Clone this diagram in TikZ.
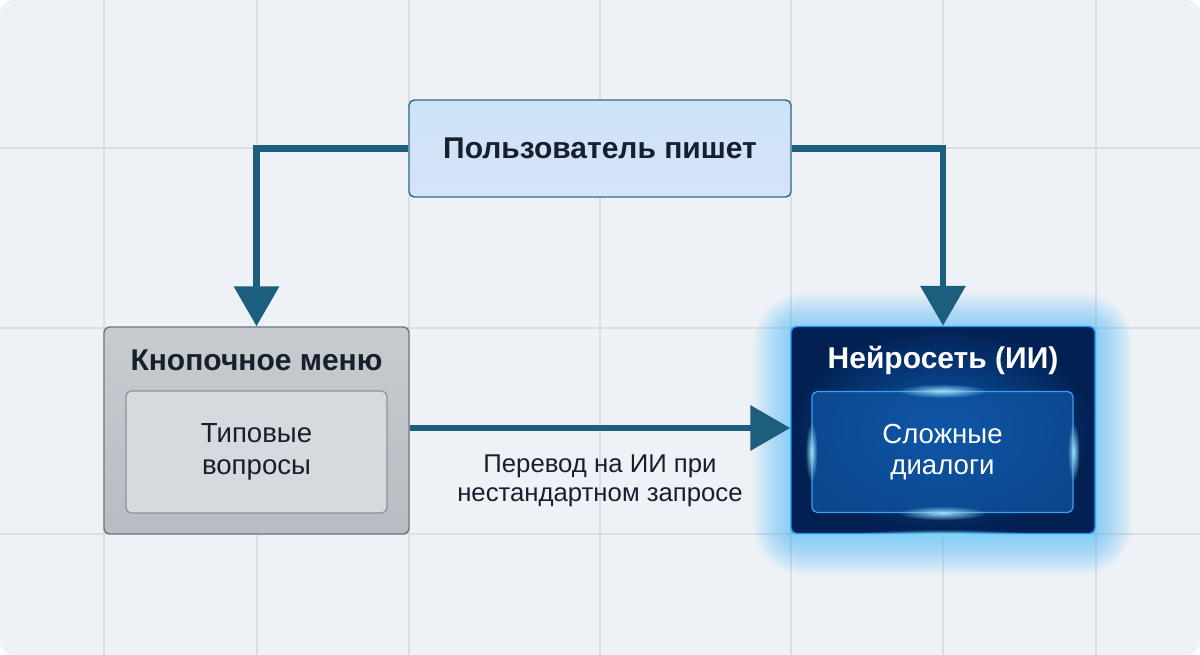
\documentclass[tikz,border=0pt]{standalone}
\usepackage{fontspec}
\setmainfont{Liberation Sans}
\usetikzlibrary{arrows.meta,positioning,fadings}

\definecolor{paperclr}{RGB}{238,242,246}
\definecolor{gridclr}{RGB}{218,223,229}
\definecolor{flowclr}{RGB}{28,94,126}
\definecolor{inkclr}{RGB}{22,32,44}
\definecolor{userfill}{RGB}{204,227,247}
\definecolor{userline}{RGB}{47,106,142}
\definecolor{menutop}{RGB}{200,203,208}
\definecolor{menubot}{RGB}{184,188,195}
\definecolor{menuline}{RGB}{112,118,126}
\definecolor{menuinner}{RGB}{214,217,221}
\definecolor{menuinline}{RGB}{140,145,153}
\definecolor{aidark}{RGB}{2,32,82}
\definecolor{aimid}{RGB}{14,92,180}
\definecolor{ailine}{RGB}{30,150,255}
\definecolor{aiinner}{RGB}{16,84,162}
\definecolor{aiinline}{RGB}{58,160,240}
\definecolor{glowclr}{RGB}{40,180,255}

\tikzfading[name=spotfade,inner color=transparent!0,outer color=transparent!100]
\tikzset{every picture/.style={line width=0.75pt}}

\begin{document}
\begin{tikzpicture}[x=0.75pt,y=0.75pt,yscale=-1,xscale=1,
  box/.style={rounded corners=4pt,line width=1.1pt,inner sep=0pt,align=center},
  title/.style={font=\bfseries\fontsize{22.5}{27}\selectfont,text=inkclr},
  body/.style={font=\fontsize{20.7}{23.5}\selectfont,align=center},
  flow/.style={draw=flowclr,line width=5.2pt,-{Triangle[length=30pt,width=33pt]}}]
\useasboundingbox (0,0) rectangle (1200,655);

%background and grid
\fill[paperclr,rounded corners=10pt] (0,0) rectangle (1200,655);
\foreach \gx in {104,257,409,600,791,943,1096}
  \draw[gridclr,line width=0.9pt] (\gx,0) -- (\gx,655);
\foreach \gy in {148,328,534}
  \draw[gridclr,line width=0.9pt] (0,\gy) -- (1200,\gy);

%top box
\node[box,draw=userline,top color=userfill,bottom color=userfill!92!blue!60!white,
  minimum width=286.5pt,minimum height=72.75pt] (user) at (600,148.5) {};
\node[title] (usertxt) at (600,148.5) {Пользователь пишет};

%left box
\node[box,draw=menuline,top color=menutop,bottom color=menubot,
  minimum width=228.75pt,minimum height=155.25pt] (menu) at (256.5,430.5) {};
\node[title] (menutxt) at (256.5,360) {Кнопочное меню};
\node[box,draw=menuinline,fill=menuinner,line width=0.9pt,
  minimum width=195.75pt,minimum height=91.5pt] (typical) at (256.5,452) {};
\node[body,text=inkclr] (typicaltxt) at (256.5,452) {Типовые\\вопросы};

%glow round the right box
\foreach \g [evaluate=\g as \rc using 4+\g*1.6] in {1,...,22}
  \node[fill=glowclr,fill opacity=0.028,rounded corners=\rc pt,inner sep=0pt,
    minimum width={228pt+2*\g*1.3pt},minimum height={155.25pt+2*\g*1.3pt}]
    (glow\g) at (943,434) {};

%right box
\node[box,draw=ailine,inner color=aimid,outer color=aidark,
  minimum width=228pt,minimum height=155.25pt] (ai) at (943,430) {};
\node[title,text=white] (aitxt) at (943,360) {Нейросеть (ИИ)};
\node[box,draw=aiinline,fill=aiinner,fill opacity=0.75,line width=0.9pt,
  minimum width=195.75pt,minimum height=90.75pt] (hard) at (942.5,452) {};
\fill[cyan!40!white,path fading=spotfade] (hard.north) ellipse (45 and 7);
\fill[cyan!40!white,path fading=spotfade] (hard.south) ellipse (45 and 7);
\fill[cyan!40!white,path fading=spotfade] (hard.west) ellipse (6 and 30);
\fill[cyan!40!white,path fading=spotfade] (hard.east) ellipse (6 and 30);
\fill[cyan!50!white,path fading=spotfade] (ai.south) ellipse (90 and 5);
\node[body,text=white] (hardtxt) at (942.5,452) {Сложные\\диалоги};

%connectors
\draw[flow] (user.west) -| (menu.north);
\draw[flow] (user.east) -| (ai.north);
\draw[flow] (menu.east |- 0,428) -- (ai.west |- 0,428);
\node[body,font=\fontsize{19.3}{21.5}\selectfont,text=inkclr] (switch) at (600,481)
  {Перевод на ИИ при\\нестандартном запросе};

\end{tikzpicture}
\end{document}
